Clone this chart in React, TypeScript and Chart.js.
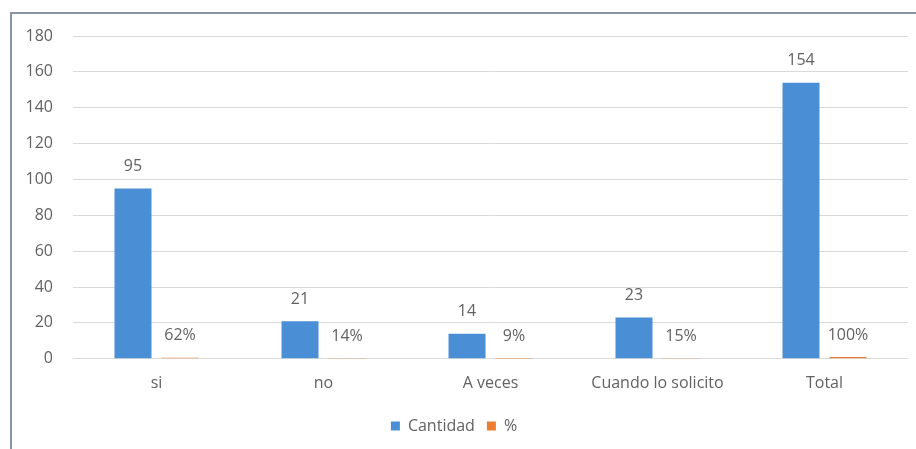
import { useEffect, useRef } from "react";
import { Chart, registerables } from "chart.js";

Chart.register(...registerables);

const categories = ["si", "no", "A veces", "Cuando lo solicito", "Total"];
const cantidad = [95, 21, 14, 23, 154];
const porcentaje = [0.62, 0.14, 0.09, 0.15, 1.0];
const seriesNames = ["Cantidad", "%"];
const yMax = 180;
const yStep = 20;

const TEXT = "#626262";
const FONT = "'Open Sans', 'Noto Sans', sans-serif";
const SIZE = 16;

// Writes each bar's value just above its top edge.
const valueLabels = {
  id: "valueLabels",
  afterDatasetsDraw(chart: any) {
    const { ctx } = chart;
    ctx.save();
    ctx.fillStyle = TEXT;
    ctx.font = `${SIZE}px ${FONT}`;
    ctx.textAlign = "center";
    ctx.textBaseline = "middle";
    chart.data.datasets.forEach((ds: any, di: number) => {
      const meta = chart.getDatasetMeta(di);
      meta.data.forEach((bar: any, i: number) => {
        const v = ds.data[i];
        const text = di === 1 ? `${Math.round(v * 100)}%` : String(v);
        ctx.fillText(text, bar.x, bar.y - 22);
      });
    });
    ctx.restore();
  },
};

export default function App() {
  const ref = useRef<HTMLCanvasElement>(null);

  useEffect(() => {
    document.body.style.margin = "0";
    const chart = new Chart(ref.current!, {
      type: "bar",
      data: {
        labels: categories,
        datasets: [
          {
            label: seriesNames[0],
            data: cantidad,
            backgroundColor: "#4a8fd6",
            categoryPercentage: 0.563,
            barPercentage: 0.787,
          },
          {
            label: seriesNames[1],
            data: porcentaje,
            backgroundColor: "#ed7d31",
            categoryPercentage: 0.563,
            barPercentage: 0.787,
          },
        ],
      },
      options: {
        responsive: false,
        animation: false,
        layout: { padding: { top: 36, right: 8, bottom: 5, left: 0 } },
        plugins: {
          legend: {
            position: "bottom",
            labels: {
              color: TEXT,
              font: { family: FONT, size: SIZE },
              boxWidth: 9,
              boxHeight: 9,
              padding: 12,
            },
          },
          tooltip: { enabled: false },
        },
        scales: {
          x: {
            afterFit(scale: any) {
              scale.height -= 2;
            },
            grid: { display: false, drawTicks: false },
            border: { display: false },
            ticks: { color: TEXT, font: { family: FONT, size: SIZE }, padding: 15 },
          },
          y: {
            min: 0,
            max: yMax,
            afterFit(scale: any) {
              scale.width = 73;
            },
            grid: { color: "#d9d9d9", drawTicks: false },
            border: { display: false },
            ticks: {
              stepSize: yStep,
              color: TEXT,
              font: { family: FONT, size: SIZE },
              padding: 20,
            },
          },
        },
      },
      plugins: [valueLabels],
    });
    return () => chart.destroy();
  }, []);

  return (
    <div style={{ position: "fixed", left: 0, top: 0, width: 916, height: 449, background: "#fff" }}>
      <div
        style={{
          position: "absolute",
          left: 10,
          top: 12,
          width: 920,
          height: 460,
          borderTop: "2px solid #8894a8",
          borderLeft: "2px solid #8894a8",
          boxSizing: "border-box",
        }}
      />
      <canvas ref={ref} width={916} height={449} style={{ position: "absolute", left: 0, top: 0 }} />
    </div>
  );
}
